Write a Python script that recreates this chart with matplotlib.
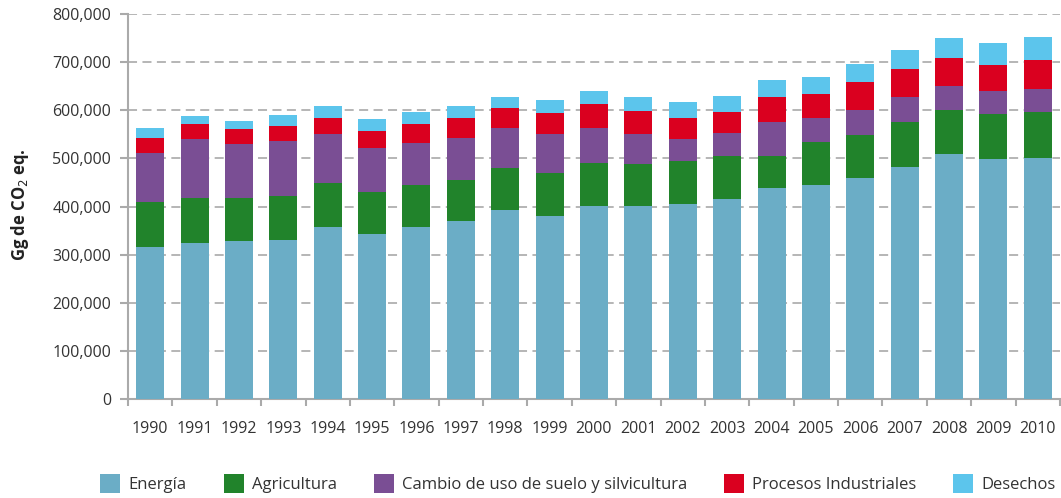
import matplotlib.pyplot as plt
import numpy as np
from matplotlib.ticker import FuncFormatter

years = [str(y) for y in range(1990, 2011)]

# Gg de CO2 eq.
energia = [316, 324, 328, 330, 357, 343, 357, 370, 393, 380, 401,
           401, 405, 416, 438, 445, 459, 482, 509, 499, 501]
agricultura = [94, 94, 90, 92, 92, 88, 88, 85, 87, 90, 89,
               88, 89, 89, 67, 89, 90, 94, 92, 93, 95]
cambio_suelo = [101, 122, 112, 114, 102, 91, 87, 87, 83, 81, 73,
                62, 46, 48, 71, 50, 52, 52, 49, 48, 48]
procesos = [31, 31, 31, 31, 33, 35, 39, 42, 42, 43, 50,
            47, 44, 43, 52, 50, 58, 58, 59, 54, 60]
desechos = [21, 17, 17, 23, 25, 25, 25, 25, 23, 27, 27,
            30, 33, 34, 35, 35, 37, 39, 41, 46, 48]

names = ["Energía", "Agricultura", "Cambio de uso de suelo y silvicultura",
         "Procesos Industriales", "Desechos"]
colors = ["#6badc6", "#21832b", "#7a4e94", "#da001f", "#5cc5ec"]

plt.rcParams['font.family'] = ['Open Sans', 'DejaVu Sans']

fig = plt.figure(figsize=(10.61, 4.98), dpi=100)
ax = fig.add_axes([128 / 1061, 1 - 399 / 498, 932 / 1061, 385 / 498])

series = [energia, agricultura, cambio_suelo, procesos, desechos]
x = np.arange(len(years))
bottom = np.zeros(len(years))
handles = []
for vals, name, col in zip(series, names, colors):
    v = np.array(vals) * 1000.0
    h = ax.bar(x, v, 0.63, bottom=bottom, color=col, label=name, zorder=3)
    handles.append(h)
    bottom += v

ax.set_xlim(-0.5, len(years) - 0.5)
ax.set_ylim(0, 800000)
ax.set_yticks(np.arange(0, 800001, 100000))
ax.yaxis.set_major_formatter(FuncFormatter(lambda v, p: f"{int(v):,}"))

ax.set_xticks(x)
ax.set_xticklabels(years)
ax.set_xticks(np.arange(-0.5, len(years), 1), minor=True)
ax.tick_params(axis='x', which='major', length=0, pad=16, labelsize=11.5, colors='#333333')
ax.tick_params(axis='x', which='minor', length=5, width=1.5, color='#aaaaaa')
ax.tick_params(axis='y', length=6, width=1.5, color='#aaaaaa', labelsize=11.5,
               labelcolor='#333333', pad=6)

ax.grid(axis='y', linestyle=(0, (5, 3)), color='#b0b0b0', linewidth=1.3, zorder=0)
for s in ['top', 'right']:
    ax.spines[s].set_visible(False)
for s in ['left', 'bottom']:
    ax.spines[s].set_color('#aaaaaa')
    ax.spines[s].set_linewidth(1.5)

fig.text(20 / 1061, 1 - 205 / 498, "Gg de CO$_2$ eq.", rotation=90, ha='center',
         va='center', fontsize=12, fontweight='bold', color='#222222')

fig.legend(handles=handles, labels=names, loc='lower center', ncol=5,
           bbox_to_anchor=(578 / 1061, -0.02), frameon=False, fontsize=12,
           handlelength=1.2, handleheight=1.4, handletextpad=0.5,
           columnspacing=2.2, labelcolor='#333333')

fig.savefig("out.png", dpi=100)
